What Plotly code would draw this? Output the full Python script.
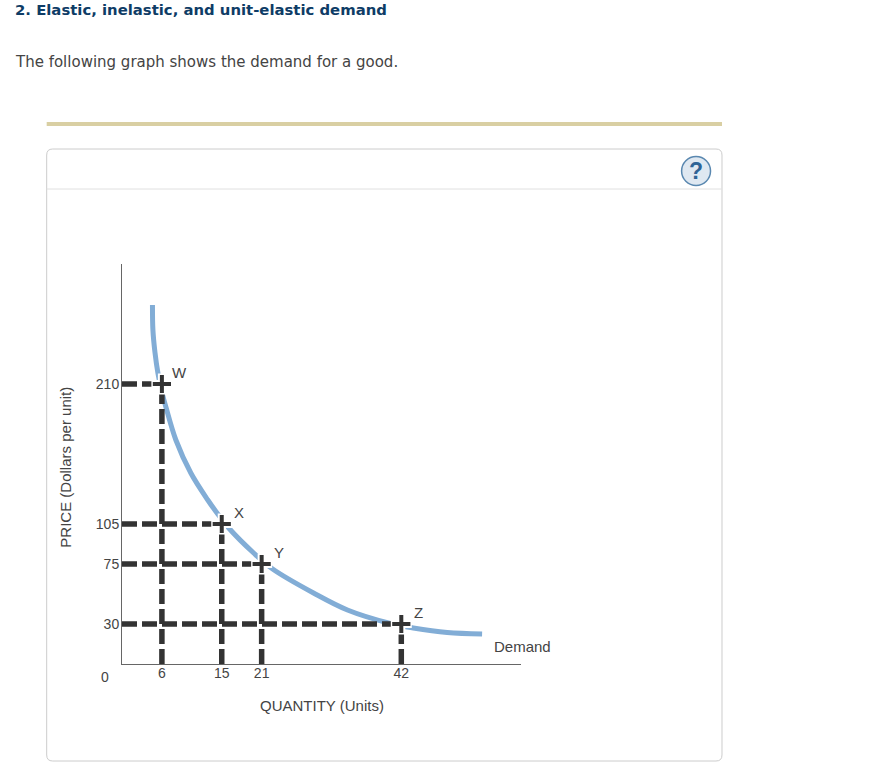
import plotly.graph_objects as go

# ---- data ----
demand_q = [4.58, 4.65, 4.95, 5.4, 6, 6.6, 8.1, 10.35, 12.9, 14.4, 16.05, 19.8, 22.65, 28.8, 33.9, 40.35, 43.8, 48.9, 54.15]
demand_p = [269.25, 250.5, 234, 218.25, 204, 192.75, 168, 143.25, 123, 112.5, 102, 83.25, 71.25, 53.25, 40.5, 30.4, 27, 23.6, 22.5]
point_names = ["W", "X", "Y", "Z"]
point_q = [6, 15, 21, 42]
point_p = [210, 105, 75, 30]
x_ticks = [6, 15, 21, 42]
y_ticks = [30, 75, 105, 210]

W, H = 887, 781
L, R, T, B = 121.5, 521.5, 264, 664
CARD_L, CARD_R = 46, 723
FONT = "Liberation Sans"
VERD = "DejaVu Sans"
DARK = "#333333"
TXT = "#444444"


def px(x):
    return (x - L) / (R - L)


def py(y):
    return (B - y) / (B - T)


fig = go.Figure()
fig.add_trace(go.Scatter(x=demand_q, y=demand_p, mode="lines", line=dict(color="#82add6", width=5, shape="spline", smoothing=1), hoverinfo="skip"))

for q, p in zip(point_q, point_p):
    fig.add_trace(go.Scatter(x=[0, q], y=[p, p], mode="lines", line=dict(color=DARK, width=5.5, dash="15px,5px"), hoverinfo="skip", cliponaxis=False))
    fig.add_trace(go.Scatter(x=[q, q], y=[0, p], mode="lines", line=dict(color=DARK, width=5.5, dash="15px,5px"), hoverinfo="skip", cliponaxis=False))

fig.add_trace(go.Scatter(x=point_q, y=point_p, mode="markers", marker=dict(symbol="cross-thin", size=15, line=dict(color="white", width=8)), hoverinfo="skip"))
fig.add_trace(go.Scatter(x=point_q, y=point_p, mode="markers", marker=dict(symbol="cross-thin", size=13, line=dict(color=DARK, width=4)), hoverinfo="text", text=point_names))

shapes = [
    dict(type="rect", xref="paper", yref="paper", x0=px(CARD_L), x1=px(CARD_R), y0=py(122), y1=py(126), fillcolor="#d9cfa3", line_width=0, layer="below"),
    dict(type="path", xref="paper", yref="paper", layer="below", line=dict(color="#cccccc", width=1), fillcolor="white",
         path=f"M {px(CARD_L + 6)} {py(149)} L {px(CARD_R - 6)} {py(149)} Q {px(CARD_R)} {py(149)} {px(CARD_R)} {py(155)} L {px(CARD_R)} {py(755)} Q {px(CARD_R)} {py(761)} {px(CARD_R - 6)} {py(761)} "
              f"L {px(CARD_L + 6)} {py(761)} Q {px(CARD_L)} {py(761)} {px(CARD_L)} {py(755)} L {px(CARD_L)} {py(155)} Q {px(CARD_L)} {py(149)} {px(CARD_L + 6)} {py(149)} Z"),
    dict(type="line", xref="paper", yref="paper", x0=px(CARD_L), x1=px(CARD_R), y0=py(189), y1=py(189), line=dict(color="#e0e0e0", width=1), layer="below"),
    dict(type="circle", xref="paper", yref="paper", x0=px(682.5), x1=px(711.5), y0=py(156.5), y1=py(185.5), fillcolor="#dfe8f1", line=dict(color="#5a88b0", width=1.5), layer="below"),
]

anns = []


def page_text(x, y, text, size, color, font=FONT, xanchor="left", angle=0):
    anns.append(dict(xref="paper", yref="paper", x=px(x), y=py(y), text=text, showarrow=False, xanchor=xanchor, yanchor="middle",
                     textangle=angle, font=dict(family=font, size=size, color=color)))


page_text(12.5, 10, "<b>2. Elastic, inelastic, and unit-elastic demand</b>", 14.85, "#0e3c66", VERD)
page_text(12.5, 62, "The following graph shows the demand for a good.", 15, "#444444", VERD)
page_text(697, 171, "<b>?</b>", 23, "#2f6496", FONT, "center")
page_text(104, 677, "0", 14, TXT, FONT, "center")
page_text(64, 467, "PRICE (Dollars per unit)", 15, TXT, FONT, "center", -90)
page_text(321.5, 705, "QUANTITY (Units)", 15, TXT, FONT, "center")
page_text(492, 646, "Demand", 15, TXT)

for name, q, p in zip(point_names, point_q, point_p):
    anns.append(dict(x=q, y=p, xref="x", yref="y", text=name, showarrow=False, xshift=17.5, yshift=12, font=dict(family=FONT, size=15, color=TXT)))

axis = dict(showgrid=False, zeroline=False, showline=True, linecolor="#666666", linewidth=1, ticks="", tickmode="array",
            tickfont=dict(family=FONT, size=14, color=TXT), fixedrange=True)

fig.update_layout(
    width=W, height=H, autosize=False, showlegend=False, paper_bgcolor="white", plot_bgcolor="rgba(0,0,0,0)",
    margin=dict(l=L, r=W - R, t=T, b=H - B, pad=0),
    xaxis=dict(axis, range=[0, 60], tickvals=x_ticks, ticktext=[str(v) for v in x_ticks], ticklabelstandoff=-4),
    yaxis=dict(axis, range=[0, 300], tickvals=y_ticks, ticktext=[str(v) for v in y_ticks], ticklabelstandoff=-1),
    shapes=shapes, annotations=anns,
)

fig.write_html("out.html", config={"displayModeBar": False}, post_script="document.body.style.margin='0';document.documentElement.style.overflow='hidden';window.dispatchEvent(new Event('resize'));")
